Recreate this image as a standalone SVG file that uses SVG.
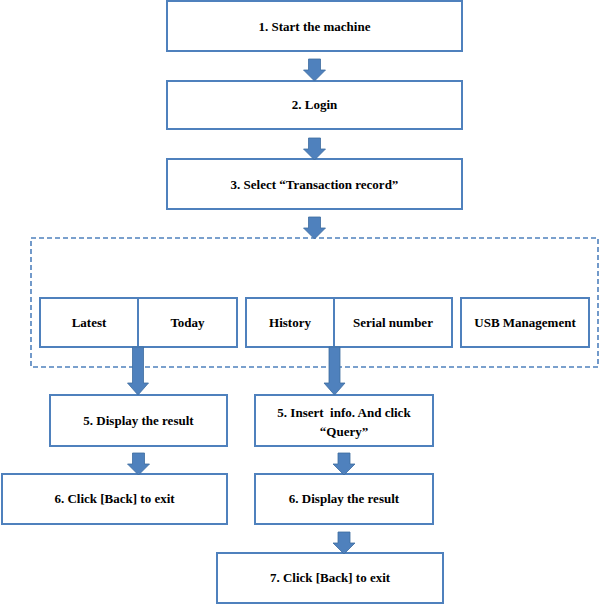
<svg xmlns="http://www.w3.org/2000/svg" xmlns:xlink="http://www.w3.org/1999/xlink" width="600" height="605" viewBox="0 0 600 605">
<defs>
<style>
.box{fill:#ffffff;stroke:#4F81BD;stroke-width:2}
.dash{fill:none;stroke:#4F81BD;stroke-width:1.6;stroke-dasharray:5 3}
.arr{fill:#4F81BD;stroke:#3E6C9F;stroke-width:0.8}
text{font-family:"Liberation Serif","Times New Roman",serif;font-weight:bold;font-size:13px;fill:#000000;text-anchor:middle}
</style>
<path id="sa" d="M-6,0 H6 V11 H11 L0,22 L-11,11 H-6 Z"/>
<path id="la" d="M-5.5,0 H5.5 V36 H10.5 L0,48 L-10.5,36 H-5.5 Z"/>
</defs>
<rect width="600" height="605" fill="#ffffff"/>
<g id="container">
<rect class="dash" x="31" y="238" width="567" height="129"/>
</g>
<g id="n1"><rect class="box" x="167" y="1" width="295" height="50"/><text x="314.5" y="31">1. Start the machine</text></g>
<g id="n2"><rect class="box" x="167" y="81" width="295" height="48"/><text x="314.5" y="109">2. Login</text></g>
<g id="n3"><rect class="box" x="167" y="159" width="295" height="50"/><text x="314.5" y="189">3. Select “Transaction record”</text></g>
<g id="n4a"><rect class="box" x="40" y="298" width="98" height="49"/><text x="89" y="327">Latest</text></g>
<g id="n4b"><rect class="box" x="138" y="298" width="99" height="49"/><text x="187.5" y="327">Today</text></g>
<g id="n4c"><rect class="box" x="246" y="298" width="88" height="49"/><text x="290" y="327">History</text></g>
<g id="n4d"><rect class="box" x="334" y="298" width="118" height="49"/><text x="393" y="327">Serial number</text></g>
<g id="n4e"><rect class="box" x="461" y="298" width="128" height="49"/><text x="525" y="327">USB Management</text></g>
<g id="n5a"><rect class="box" x="50" y="395" width="177" height="51"/><text x="138.5" y="425">5. Display the result</text></g>
<g id="n5b"><rect class="box" x="255" y="395" width="178" height="51"/><text x="344" y="417" xml:space="preserve">5. Insert  info. And click</text><text x="344" y="436">“Query”</text></g>
<g id="n6a"><rect class="box" x="2" y="474" width="225" height="50"/><text x="114.5" y="503">6. Click [Back] to exit</text></g>
<g id="n6b"><rect class="box" x="255" y="474" width="178" height="50"/><text x="344" y="503">6. Display the result</text></g>
<g id="n7"><rect class="box" x="217" y="553" width="226" height="50"/><text x="330" y="582">7. Click [Back] to exit</text></g>
<g id="connectors">
<use xlink:href="#sa" class="arr" transform="translate(314.5,59)"/>
<use xlink:href="#sa" class="arr" transform="translate(314.5,138)"/>
<use xlink:href="#sa" class="arr" transform="translate(314.5,217)"/>
<use xlink:href="#la" class="arr" transform="translate(138,347)"/>
<use xlink:href="#la" class="arr" transform="translate(334.5,347)"/>
<use xlink:href="#sa" class="arr" transform="translate(138.5,453)"/>
<use xlink:href="#sa" class="arr" transform="translate(344,453)"/>
<use xlink:href="#sa" class="arr" transform="translate(344,532)"/>
</g>
</svg>
